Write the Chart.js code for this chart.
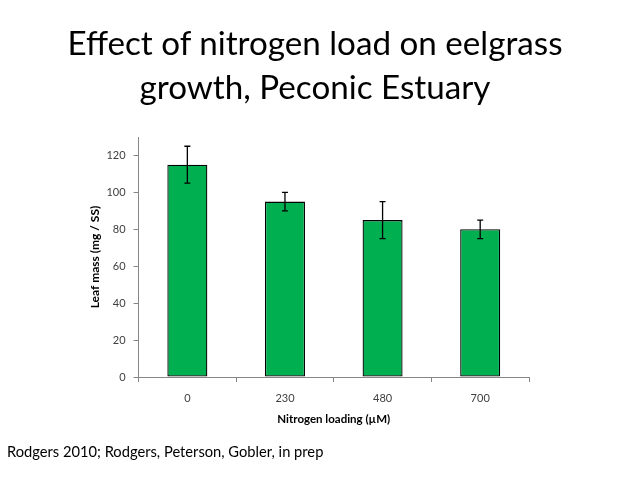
<!DOCTYPE html>
<html>
<head>
<meta charset="utf-8">
<script src="https://cdn.jsdelivr.net/npm/chart.js@4"></script>
<style>
  body { margin: 0; background: #fff; }
  #wrap { position: relative; width: 638px; height: 479px; font-family: Lato, "Open Sans", sans-serif; }
  #title { position: absolute; left: -4px; top: 20px; width: 638px; text-align: center; font-size: 33.2px; line-height: 44px; color: #000; }
  #foot { position: absolute; left: 7px; top: 442px; font-size: 14.7px; color: #000; }
  #box { position: absolute; left: 0; top: 0; width: 638px; height: 479px; }
</style>
</head>
<body>
<div id="wrap">
  <div id="box"><canvas id="bar-chart" width="638" height="479"></canvas></div>
  <div id="title">Effect of nitrogen load on eelgrass<br>growth, Peconic Estuary</div>
  <div id="foot">Rodgers 2010; Rodgers, Peterson, Gobler, in prep</div>
</div>
<script>
// nitrogen loading levels (µM)
const loadings = ['0', '230', '480', '700'];
// leaf mass (mg / SS)
const leafMass = [115, 95, 85, 80];
// error bar half-lengths
const leafErr = [10, 5, 10, 5];
const yTicks = [0, 20, 40, 60, 80, 100, 120];

const axisGray = '#868686';

// draws the error bars on top of each bar
const errorBars = {
    id: 'errorBars',
    afterDatasetsDraw(chart) {
        const ctx = chart.ctx;
        const yScale = chart.scales.y;
        const meta = chart.getDatasetMeta(0);
        ctx.save();
        ctx.strokeStyle = '#000';
        ctx.lineWidth = 1.3;
        meta.data.forEach((bar, i) => {
            const top = yScale.getPixelForValue(leafMass[i] + leafErr[i]);
            const bot = yScale.getPixelForValue(leafMass[i] - leafErr[i]);
            ctx.beginPath();
            ctx.moveTo(bar.x, top);
            ctx.lineTo(bar.x, bot);
            ctx.moveTo(bar.x - 3, top);
            ctx.lineTo(bar.x + 3, top);
            ctx.moveTo(bar.x - 3, bot);
            ctx.lineTo(bar.x + 3, bot);
            ctx.stroke();
        });
        ctx.restore();
    }
};

Chart.defaults.font.family = 'Lato, "Open Sans", sans-serif';

var myChart = new Chart(document.getElementById('bar-chart').getContext('2d'), {
    type: 'bar',
    data: {
        labels: loadings,
        datasets: [{
            data: leafMass,
            backgroundColor: '#00B050',
            borderColor: '#000',
            borderWidth: 1.3,
            borderSkipped: false,
            categoryPercentage: 1,
            barPercentage: 0.41
        }]
    },
    options: {
        responsive: false,
        animation: false,
        devicePixelRatio: 1,
        layout: { padding: { left: 88, right: 109, top: 137, bottom: 53 } },
        plugins: {
            legend: { display: false },
            tooltip: { enabled: false }
        },
        scales: {
            x: {
                grid: { drawOnChartArea: false, drawTicks: true, tickLength: 5, color: axisGray, offset: true },
                border: { color: axisGray, width: 1 },
                ticks: { color: '#404040', font: { size: 11 }, padding: 10 },
                title: { display: true, text: 'Nitrogen loading (µM)', color: '#000', font: { size: 11.5, weight: 'bold' }, padding: { top: -3, bottom: 0 } }
            },
            y: {
                min: 0,
                max: 130,
                afterBuildTicks(axis) {
                    axis.ticks = yTicks.map(v => ({ value: v }));
                },
                grid: { drawOnChartArea: false, drawTicks: true, tickLength: 5, color: axisGray },
                border: { color: axisGray, width: 1 },
                ticks: { color: '#404040', font: { size: 11 }, padding: 8 },
                title: { display: true, text: 'Leaf mass (mg / SS)', color: '#000', font: { size: 12, weight: 'bold' }, padding: { top: 0, bottom: -4 } }
            }
        }
    },
    plugins: [errorBars]
});
</script>
</body>
</html>
